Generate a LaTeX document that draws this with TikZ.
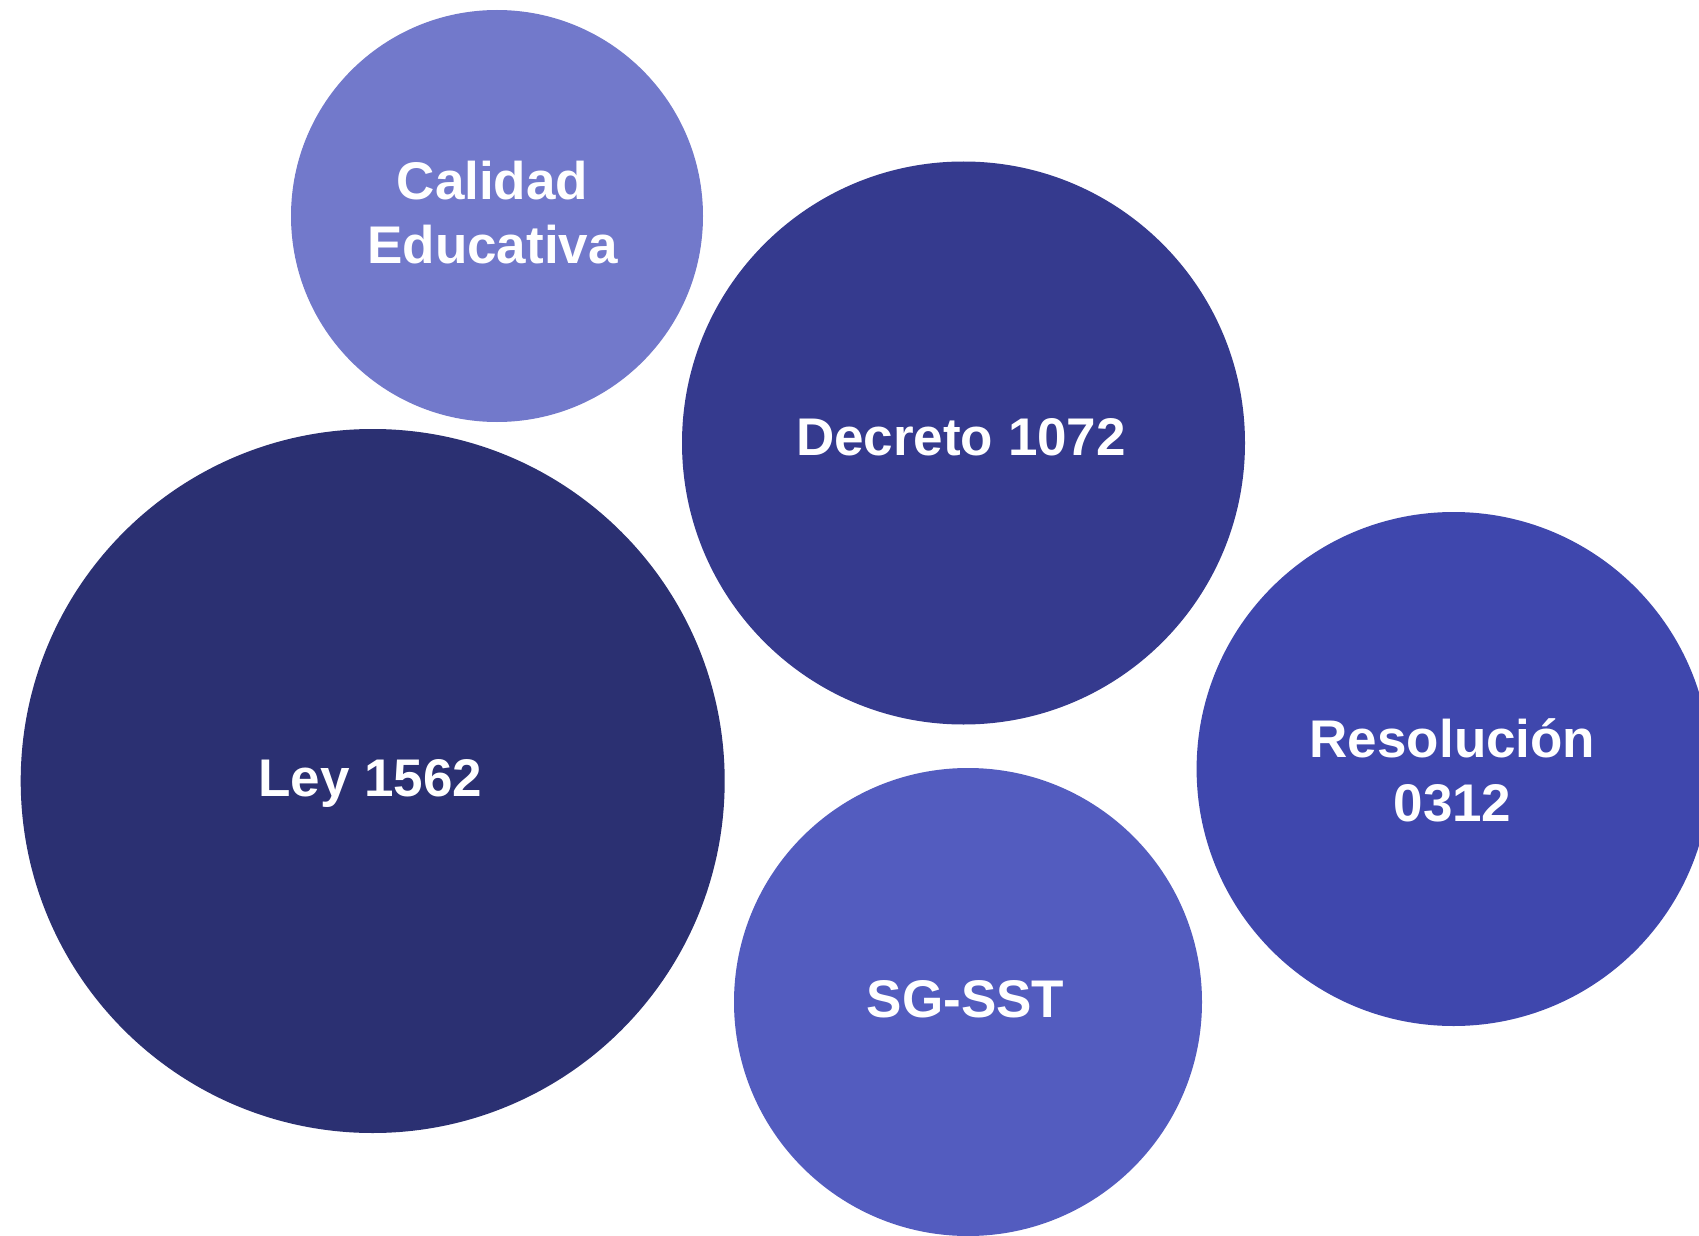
\documentclass[tikz,border=0pt]{standalone}
\usepackage{fontspec}
\setmainfont{Liberation Sans}
\definecolor{cCal}{HTML}{7279CB}
\definecolor{cDec}{HTML}{353A8E}
\definecolor{cLey}{HTML}{2B3072}
\definecolor{cRes}{HTML}{3F47AD}
\definecolor{cSG}{HTML}{535CBF}
\tikzset{
  bubble/.style={circle, inner sep=0pt, draw=none},
  lbl/.style={text=white, font=\fontsize{26.5}{32}\selectfont\bfseries, align=center, inner sep=0pt}
}
\begin{document}
\begin{tikzpicture}[x=0.5pt, y=-0.5pt]
\useasboundingbox (0,0) rectangle (1699,1236);
\clip (0,0) rectangle (1699,1236);
\fill[white] (0,0) rectangle (1699,1236);
\node[bubble, fill=cCal, minimum size=206pt] (cal) at (497,216) {};
\node[bubble, fill=cDec, minimum size=281.5pt] (dec) at (963.5,443) {};
\node[bubble, fill=cLey, minimum size=352pt] (ley) at (372.7,781) {};
\node[bubble, fill=cRes, minimum size=257pt] (res) at (1453.6,769) {};
\node[bubble, fill=cSG, minimum size=234pt] (sg) at (968,1002) {};
\node[lbl] (calt) at (492.5,213) {Calidad\\Educativa};
\node[lbl, anchor=base] (dect) at (961,455.4) {Decreto 1072};
\node[lbl, anchor=base] (leyt) at (370.5,796) {Ley 1562};
\node[lbl] (rest) at (1452.5,770.5) {Resolución\\0312};
\node[lbl, anchor=base] (sgt) at (965.5,1017) {SG-SST};
\end{tikzpicture}
\end{document}
